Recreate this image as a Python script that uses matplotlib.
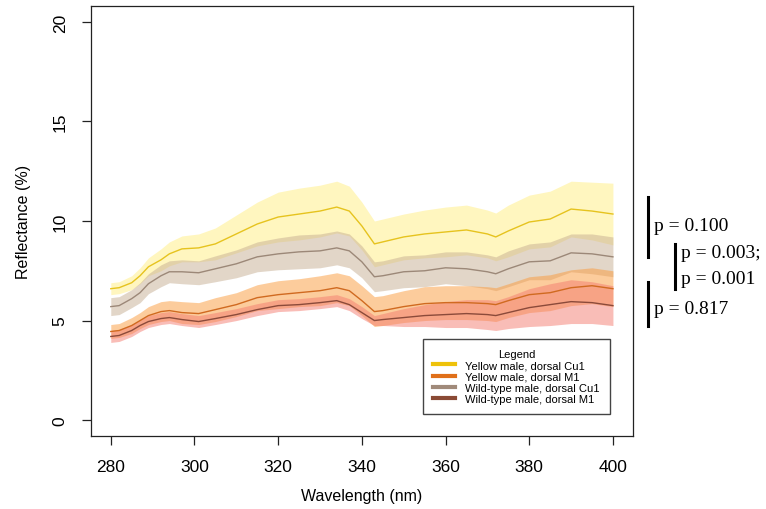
import numpy as np
import matplotlib
matplotlib.use("Agg")
import matplotlib.pyplot as plt
from matplotlib.lines import Line2D

# wavelength nodes (nm)
wl = [280, 282, 285, 287, 289, 292, 294, 297, 301, 305,
      310, 315, 320, 325, 330, 334, 337, 340, 343, 345,
      350, 355, 360, 365, 370, 372, 375, 380, 385, 390,
      395, 400]

# Yellow male, dorsal Cu1
yel_cu1 = [6.6, 6.65, 6.9, 7.25, 7.7, 8.05, 8.35, 8.6, 8.65, 8.85,
           9.35, 9.85, 10.2, 10.35, 10.5, 10.7, 10.5, 9.75, 8.85, 8.95,
           9.2, 9.35, 9.45, 9.55, 9.35, 9.2, 9.5, 9.95, 10.1, 10.6,
           10.5, 10.35]
yel_cu1_se = [0.3, 0.3, 0.35, 0.4, 0.45, 0.55, 0.6, 0.65, 0.7, 0.8,
              0.95, 1.1, 1.25, 1.3, 1.3, 1.3, 1.25, 1.2, 1.15, 1.15,
              1.15, 1.2, 1.25, 1.25, 1.2, 1.2, 1.3, 1.35, 1.4, 1.4,
              1.45, 1.55]

# Wild-type male, dorsal Cu1
wt_cu1 = [5.7, 5.75, 6.1, 6.4, 6.85, 7.25, 7.45, 7.45, 7.4, 7.6,
          7.85, 8.2, 8.35, 8.45, 8.5, 8.65, 8.5, 7.95, 7.2, 7.25,
          7.45, 7.5, 7.65, 7.6, 7.45, 7.35, 7.6, 7.95, 8.0, 8.4,
          8.35, 8.2]
wt_cu1_se = [0.45, 0.45, 0.45, 0.5, 0.5, 0.55, 0.55, 0.6, 0.6, 0.65,
             0.7, 0.75, 0.8, 0.85, 0.85, 0.85, 0.85, 0.8, 0.75, 0.75,
             0.8, 0.8, 0.8, 0.85, 0.85, 0.85, 0.9, 0.9, 0.95, 0.95,
             1.0, 1.0]

# Yellow male, dorsal M1
yel_m1 = [4.45, 4.5, 4.75, 5.0, 5.25, 5.45, 5.5, 5.4, 5.35, 5.55,
          5.8, 6.15, 6.3, 6.4, 6.5, 6.65, 6.5, 6.0, 5.45, 5.5,
          5.7, 5.85, 5.9, 5.9, 5.85, 5.8, 6.0, 6.3, 6.4, 6.65,
          6.75, 6.6]
yel_m1_se = [0.35, 0.35, 0.4, 0.4, 0.45, 0.5, 0.5, 0.55, 0.55, 0.6,
             0.6, 0.65, 0.7, 0.7, 0.75, 0.75, 0.75, 0.75, 0.75, 0.75,
             0.8, 0.85, 0.85, 0.85, 0.85, 0.85, 0.85, 0.9, 0.9, 0.9,
             0.9, 0.9]

# Wild-type male, dorsal M1
wt_m1 = [4.2, 4.25, 4.5, 4.75, 4.95, 5.1, 5.15, 5.05, 4.95, 5.1,
         5.3, 5.55, 5.75, 5.8, 5.9, 6.0, 5.8, 5.4, 5.0, 5.05,
         5.15, 5.25, 5.3, 5.35, 5.3, 5.25, 5.4, 5.65, 5.8, 5.95,
         5.9, 5.75]
wt_m1_se = [0.3, 0.3, 0.3, 0.3, 0.3, 0.3, 0.3, 0.3, 0.3, 0.3,
            0.3, 0.3, 0.3, 0.3, 0.3, 0.3, 0.3, 0.3, 0.25, 0.3,
            0.45, 0.55, 0.65, 0.7, 0.75, 0.75, 0.8, 0.95, 1.05, 1.1,
            1.05, 1.0]

labels = ["Yellow male, dorsal Cu1", "Yellow male, dorsal M1",
          "Wild-type male, dorsal Cu1", "Wild-type male, dorsal M1"]
pvals = ["p = 0.100", "p = 0.003;", "p = 0.001", "p = 0.817"]

plt.rcParams["font.family"] = ["Liberation Sans", "DejaVu Sans"]

fig = plt.figure(figsize=(7.66, 5.10), dpi=100)
ax = fig.add_axes([0.1184, 0.1431, 0.7080, 0.8432])

wl_a = np.array(wl)
series = [
    (yel_cu1, yel_cu1_se, "#FFEE80", "#E6C31E"),
    (wt_cu1, wt_cu1_se, "#C6AE92", "#9C8878"),
    (yel_m1, yel_m1_se, "#FB9A3A", "#D06A20"),
    (wt_m1, wt_m1_se, "#F47C70", "#8B4A3A"),
]
for m, se, fc, lc in series:
    m = np.array(m)
    se = np.array(se)
    ax.fill_between(wl_a, m - se, m + se, color=fc, alpha=0.5, lw=0)
for m, se, fc, lc in series:
    ax.plot(wl_a, m, color=lc, lw=1.0)

ax.set_xlim(275.2, 404.8)
ax.set_ylim(-0.8, 20.8)
ax.set_xticks(range(280, 401, 20))
ax.set_yticks(range(0, 21, 5))
ax.set_yticklabels([str(v) for v in range(0, 21, 5)], rotation=90, va="center")
ax.tick_params(direction="out", length=6.5, width=0.9, labelsize=12.5, color="#222222")
ax.tick_params(axis="x", pad=10)
ax.tick_params(axis="y", pad=10)
for s in ax.spines.values():
    s.set_linewidth(0.9)
    s.set_color("#222222")

fig.text(0.031, (510 - 222) / 510, "Reflectance (%)", rotation=90,
         ha="center", va="center", fontsize=11.5)
fig.text((90.7 + 633) / 2 / 766, 1 - 497 / 510, "Wavelength (nm)",
         ha="center", va="center", fontsize=11.5)

handles = [Line2D([], [], color=c, lw=3)
           for c in ["#EEC20A", "#E0701A", "#A08A7A", "#8A4A35"]]
leg = fig.legend(handles, labels, title="Legend", loc="upper left",
                 bbox_to_anchor=(423 / 766, 1 - 340 / 510), fontsize=8,
                 title_fontsize=8, handlelength=2.0, handletextpad=0.9,
                 labelspacing=0.12, borderpad=0.9, borderaxespad=0,
                 fancybox=False, framealpha=1)
leg.get_frame().set_edgecolor("#444444")
leg.get_frame().set_linewidth(1.0)

# p-value brackets on the right
def vbar(x, y0, y1):
    fig.add_artist(Line2D([x / 766, x / 766], [1 - y0 / 510, 1 - y1 / 510],
                          color="black", lw=2.2))

vbar(648, 198, 258)
vbar(675, 245, 290)
vbar(648, 283, 327)
serif = ["Liberation Serif", "DejaVu Serif"]
fig.text(654 / 766, 1 - 227 / 510, pvals[0], family=serif, fontsize=14, va="center")
fig.text(681 / 766, 1 - 254 / 510, pvals[1], family=serif, fontsize=14, va="center")
fig.text(681 / 766, 1 - 279 / 510, pvals[2], family=serif, fontsize=14, va="center")
fig.text(654 / 766, 1 - 310 / 510, pvals[3], family=serif, fontsize=14, va="center")

fig.savefig("out.png", dpi=100)
